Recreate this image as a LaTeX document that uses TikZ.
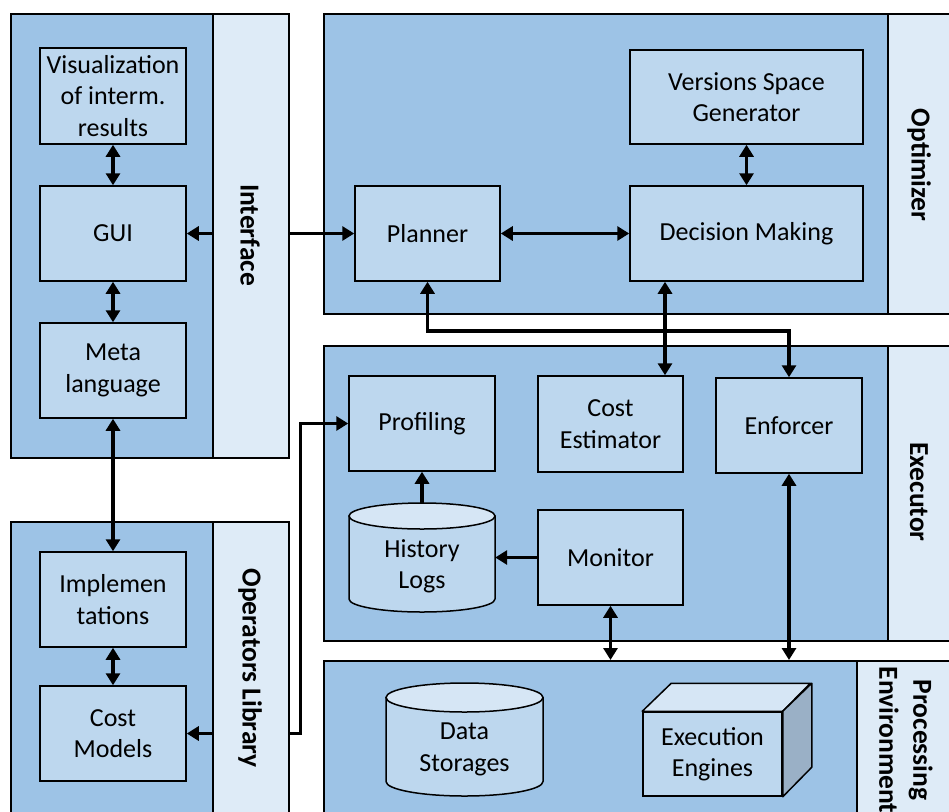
\documentclass[tikz,border=0pt]{standalone}
\usepackage{fontspec}
\setmainfont{Carlito}
\usetikzlibrary{arrows.meta}

\definecolor{panelblue}{HTML}{9DC3E6}
\definecolor{stripblue}{HTML}{DEEBF7}
\definecolor{boxblue}{HTML}{BDD7EE}
\definecolor{topblue}{HTML}{D6E6F5}
\definecolor{sideblue}{HTML}{9AB0C6}

\tikzset{
  panel/.style={draw, line width=1.5pt, fill=panelblue, anchor=north west},
  strip/.style={draw, line width=1.5pt, fill=stripblue, anchor=north west},
  box/.style={draw, line width=1.5pt, fill=boxblue, align=center, inner sep=2pt},
  title/.style={font=\fontsize{27.5}{34}\selectfont\bfseries, rotate=-90, align=center},
  can/.style={draw, line width=1.5pt, fill=boxblue},
  cantop/.style={draw, line width=1.5pt, fill=topblue},
  arr/.style={line width=3.6pt, -{Triangle[length=12pt, width=14pt]}},
  dbl/.style={line width=3.6pt, {Triangle[length=12pt, width=14pt]}-{Triangle[length=12pt, width=14pt]}},
}

\begin{document}
\begin{tikzpicture}[x=1pt, y=-1pt, font=\fontsize{26}{31.5}\selectfont]
  \useasboundingbox (0,0) rectangle (949,811);
  \fill[white] (0,0) rectangle (949,811);
  \clip (0,0) rectangle (949,811);

  % panels
  \node (ifpanel) [panel, minimum width=278pt, minimum height=444pt] at (10,13) {};
  \node (ifstrip) [strip, minimum width=76pt, minimum height=444pt] at (212,13) {};
  \node (iftitle) [title] at (250,235) {Interface};

  \node (oppanel) [panel, minimum width=278pt, minimum height=320pt] at (10,521) {};
  \node (opstrip) [strip, minimum width=76pt, minimum height=320pt] at (212,521) {};
  \node (optitle) [title] at (250,668) {Operators Library};

  \node (optpanel) [panel, minimum width=640pt, minimum height=300pt] at (323,13) {};
  \node (optstrip) [strip, minimum width=76pt, minimum height=300pt] at (887,13) {};
  \node (opttitle) [title] at (919,165) {Optimizer};

  \node (expanel) [panel, minimum width=640pt, minimum height=295pt] at (323,345) {};
  \node (exstrip) [strip, minimum width=76pt, minimum height=295pt] at (887,345) {};
  \node (extitle) [title] at (919,492) {Executor};

  \node (proc) [panel, minimum width=640pt, minimum height=180pt] at (323,660) {};
  \node (procstrip) [strip, minimum width=110pt, minimum height=180pt] at (856,660) {};
  \node (proctitle) [title] at (906,740) {Processing\\Environment};

  % interface and operators library
  \node (vis) [box, minimum width=146pt, minimum height=96pt] at (113,96) {Visualization\\of interm.\\results};
  \node (gui) [box, minimum width=146pt, minimum height=95pt] at (113,233.5) {GUI};
  \node (meta) [box, minimum width=146pt, minimum height=95pt] at (113,370.5) {Meta\\language};
  \node (impl) [box, minimum width=146pt, minimum height=95pt] at (113,599.5) {Implemen\\tations};
  \node (cmodels) [box, minimum width=146pt, minimum height=95pt] at (113,733.5) {Cost\\Models};

  % optimizer
  \node (planner) [box, minimum width=145pt, minimum height=95pt] at (427.5,233.5) {Planner};
  \node (vsg) [box, minimum width=233pt, minimum height=94pt] at (746.5,97) {Versions Space\\Generator};
  \node (decision) [box, minimum width=233pt, minimum height=95pt] at (746.5,233.5) {Decision Making};

  % executor
  \node (profiling) [box, minimum width=146pt, minimum height=95pt] at (422,423.5) {Profiling};
  \node (cost) [box, minimum width=145pt, minimum height=96pt] at (610.5,424) {Cost\\Estimator};
  \node (enforcer) [box, minimum width=146pt, minimum height=95pt] at (789,425.5) {Enforcer};
  \node (monitor) [box, minimum width=145pt, minimum height=95pt] at (610.5,557.5) {Monitor};

  \draw[can] (349,516) -- (349,599) arc[start angle=180, end angle=360, x radius=73pt, y radius=13pt] -- (495,516) -- cycle;
  \draw[cantop] (422,516) ellipse[x radius=73pt, y radius=13pt];
  \node (hist) [minimum width=146pt, minimum height=109pt] at (422,557.5) {};
  \node (histlabel) [align=center, yshift=-9pt] at (hist) {History\\Logs};

  % processing environment
  \draw[can] (386,697.5) -- (386,781.5) arc[start angle=180, end angle=360, x radius=78.5pt, y radius=14.5pt] -- (543,697.5) -- cycle;
  \draw[cantop] (464.5,697.5) ellipse[x radius=78.5pt, y radius=14.5pt];
  \node (data) [minimum width=157pt, minimum height=113pt] at (464.5,739.5) {};
  \node (datalabel) [align=center, yshift=-10pt] at (data) {Data\\Storages};

  \node (engines) [box, minimum width=139pt, minimum height=84pt] at (712.5,754) {Execution\\Engines};
  \draw[line width=1.5pt, fill=topblue, line join=round] (engines.north west) -- ++(29,-28) -- ++(139,0) -- (engines.north east) -- cycle;
  \draw[line width=1.5pt, fill=sideblue, line join=round] (engines.north east) -- ++(29,-28) -- ++(0,84) -- (engines.south east) -- cycle;

  % connectors
  \draw[dbl] (vis) -- (gui);
  \draw[dbl] (gui) -- (meta);
  \draw[dbl] (meta) -- (impl);
  \draw[dbl] (impl) -- (cmodels);
  \draw[arr] (gui.east -| ifstrip.west) -- (gui.east);
  \draw[arr] (gui.east -| ifstrip.east) -- (planner.west);
  \draw[arr] (cmodels.east -| opstrip.west) -- (cmodels.east);
  \draw[arr] (cmodels.east -| opstrip.east) -- ++(11,0) |- (profiling.west);

  \draw[dbl] (planner) -- (decision);
  \draw[dbl] (vsg) -- (decision);
  \draw[dbl] (planner.south) -- ++(0,49) -| (enforcer.north);
  \coordinate (tap) at (665,330);
  \draw[dbl] (tap |- decision.south) -- (tap |- cost.north);

  \draw[arr] (hist.north) -- (profiling.south);
  \draw[arr] (monitor.west) -- (hist.east);
  \draw[dbl] (monitor.south) -- (monitor.south |- proc.north);
  \draw[dbl] (enforcer.south) -- (enforcer.south |- proc.north);
\end{tikzpicture}
\end{document}
